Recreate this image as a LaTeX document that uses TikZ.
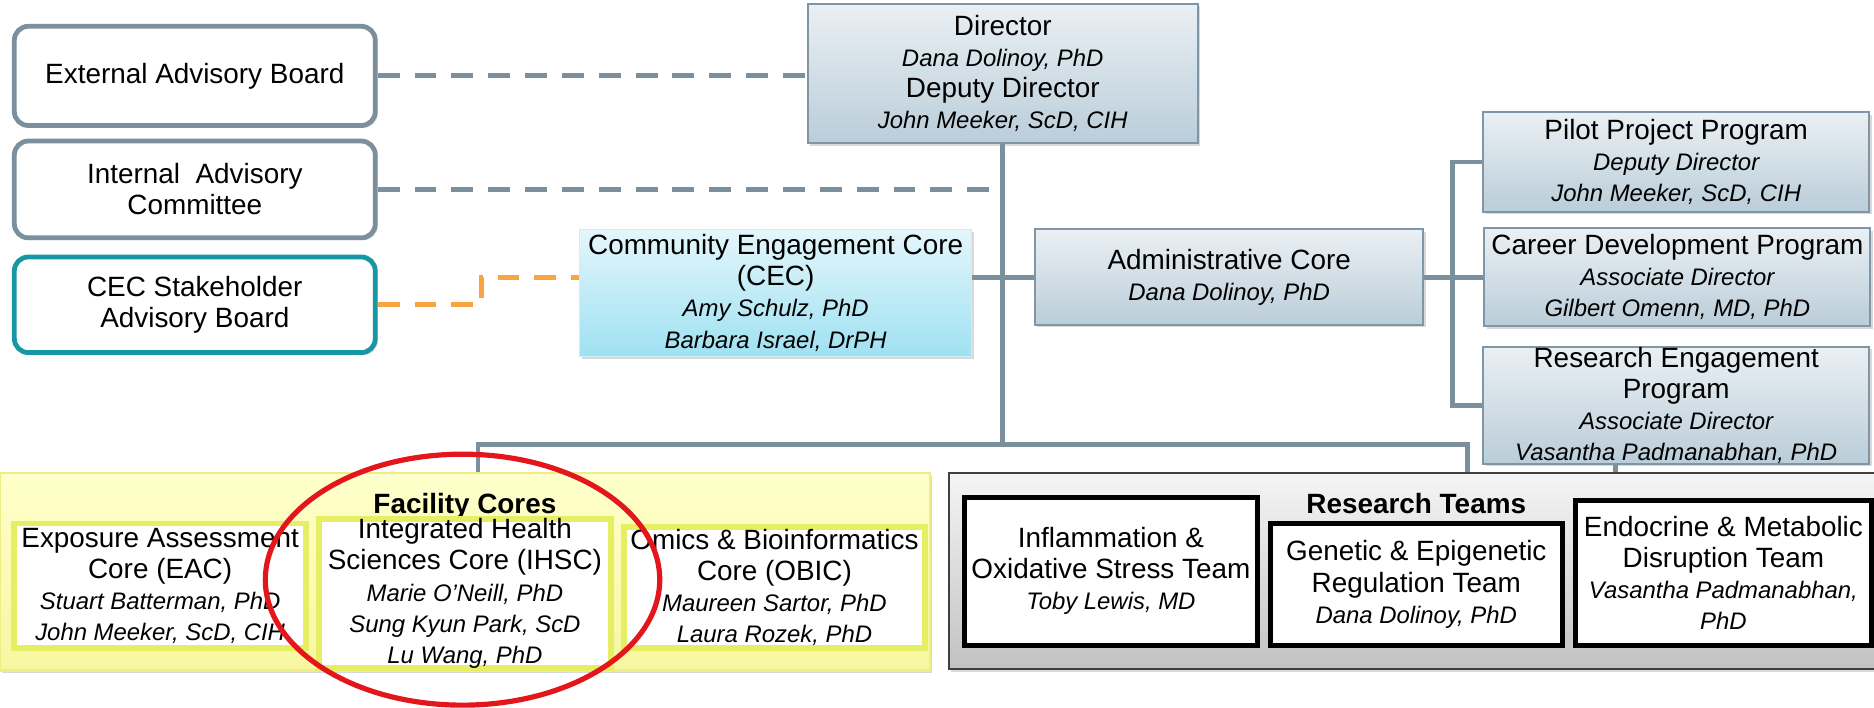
\documentclass[tikz,border=0pt]{standalone}
\usepackage{fontspec}
\setmainfont{Liberation Sans}
\usetikzlibrary{shadows,shapes.geometric}
\definecolor{lgrey}{HTML}{7B8F9C}
\definecolor{tealb}{HTML}{1598A4}
\definecolor{orangel}{HTML}{F7A541}
\definecolor{dirtop}{HTML}{EAF0F4}
\definecolor{dirbot}{HTML}{BACDD9}
\definecolor{dirborder}{HTML}{7E96A5}
\definecolor{cectop}{HTML}{E4F6FB}
\definecolor{cecbot}{HTML}{9FE1F2}
\definecolor{factop}{HTML}{FFFFCC}
\definecolor{facbot}{HTML}{F7F7A0}
\definecolor{facborder}{HTML}{EDEF86}
\definecolor{subborder}{HTML}{E6EF63}
\definecolor{rttop}{HTML}{F5F5F5}
\definecolor{rtbot}{HTML}{C2C2C2}
\definecolor{redc}{HTML}{E3161C}
\newcommand\nmi[1]{{\fontsize{12}{15.6}\selectfont\itshape #1}}
\begin{document}
\begin{tikzpicture}[x=0.6pt,y=-0.6pt,
  font=\fontsize{14}{15.6}\selectfont,
  shad/.style={drop shadow={shadow xshift=1.2pt,shadow yshift=-1.2pt,opacity=0.3}},
  advb/.style={draw=lgrey,line width=2.4pt,rounded corners=7pt,fill=white,align=center,inner sep=0pt,shad},
  blueb/.style={draw=dirborder,line width=1pt,top color=dirtop,bottom color=dirbot,align=center,inner sep=0pt,shad},
  cecb/.style={draw=cectop!60!cecbot,line width=0.6pt,top color=cectop,bottom color=cecbot,align=center,inner sep=0pt,shad},
  contf/.style={draw=facborder,line width=1.2pt,top color=factop,bottom color=facbot,inner sep=0pt,shad},
  contr/.style={draw=black!75,line width=1.2pt,top color=rttop,bottom color=rtbot,inner sep=0pt,shad},
  subb/.style={draw=subborder,line width=3pt,fill=white,align=center,inner sep=0pt},
  teamb/.style={draw=black,line width=2.6pt,fill=white,align=center,inner sep=0pt,shad},
  conn/.style={draw=lgrey,line width=2.4pt},
  dline/.style={draw=lgrey,line width=2.6pt,dash pattern=on 11pt off 7.5pt},
  oline/.style={draw=orangel,line width=2.4pt,dash pattern=on 11pt off 7.5pt},
  titl/.style={font=\fontsize{14}{15.6}\selectfont\bfseries}]
\useasboundingbox (0,0) rectangle (1568,592);

% advisory boards
\node[advb,minimum width=181.2pt,minimum height=49.8pt] (eab) at (163,63.5) {External Advisory Board};
\node[advb,minimum width=181.2pt,minimum height=48.6pt] (iac) at (163,158.5) {Internal\ \ Advisory\\Committee};
\node[advb,draw=tealb,minimum width=181.2pt,minimum height=48pt] (sab) at (163,255) {CEC Stakeholder\\Advisory Board};

% leadership
\node[blueb,minimum width=195.6pt,minimum height=70.2pt] (dir) at (839,61.5) {Director\\\nmi{Dana Dolinoy, PhD}\\Deputy Director\\\nmi{John Meeker, ScD, CIH}};
\node[cecb,minimum width=196.8pt,minimum height=63.6pt] (cec) at (649,245) {Community Engagement Core\\(CEC)\\\nmi{Amy Schulz, PhD}\\\nmi{Barbara Israel, DrPH}};
\node[blueb,minimum width=195pt,minimum height=48pt] (adm) at (1028.5,232) {Administrative Core\\\nmi{Dana Dolinoy, PhD}};
\node[blueb,minimum width=193.8pt,minimum height=49.8pt] (pil) at (1402.5,135.5) {Pilot Project Program\\\nmi{Deputy Director}\\\nmi{John Meeker, ScD, CIH}};
\node[blueb,minimum width=193.8pt,minimum height=49.2pt] (car) at (1403.5,232) {Career Development Program\\\nmi{Associate Director}\\\nmi{Gilbert Omenn, MD, PhD}};
\node[blueb,minimum width=193.8pt,minimum height=58.8pt] (ren) at (1402.5,339) {Research Engagement\\Program\\\nmi{Associate Director}\\\nmi{Vasantha Padmanabhan, PhD}};

% facility cores
\node[contf,minimum width=466.8pt,minimum height=99pt] (fac) at (389,478.5) {};
\node[titl] (fact) at (389,424) {Facility Cores};
\node[subb,minimum width=146.4pt,minimum height=62.4pt] (eac) at (134,490) {Exposure Assessment\\Core (EAC)\\\nmi{Stuart Batterman, PhD}\\\nmi{John Meeker, ScD, CIH}};
\node[subb,minimum width=146.4pt,minimum height=66.6pt] (ihsc) at (389,496.5) {Integrated Health\\Sciences Core (IHSC)\\\nmi{Marie O’Neill, PhD}\\\nmi{Sung Kyun Park, ScD}\\\nmi{Lu Wang, PhD}};
\node[subb,minimum width=151.2pt,minimum height=60.6pt] (obic) at (648,491.5) {Omics \& Bioinformatics\\Core (OBIC)\\\nmi{Maureen Sartor, PhD}\\\nmi{Laura Rozek, PhD}};

% research teams
\node[contr,minimum width=466.8pt,minimum height=98.4pt] (rt) at (1183,478) {};
\node[titl] (rtt) at (1185,421) {Research Teams};
\node[teamb,minimum width=147pt,minimum height=74.4pt] (inf) at (929.5,478) {Inflammation \&\\Oxidative Stress Team\\\nmi{Toby Lewis, MD}};
\node[teamb,minimum width=146.4pt,minimum height=61.2pt] (gen) at (1185,489) {Genetic \& Epigenetic\\Regulation Team\\\nmi{Dana Dolinoy, PhD}};
\node[teamb,minimum width=148.8pt,minimum height=72.6pt] (endo) at (1442,479.5) {Endocrine \& Metabolic\\Disruption Team\\\nmi{Vasantha Padmanabhan,}\\\nmi{PhD}};

% connectors
\coordinate (bus) at (839,372);
\coordinate (busl) at (400,372);
\coordinate (busr) at (1228,372);
\coordinate (brk) at (1215,232);
\coordinate (stub) at (1352,390);
\coordinate (ob) at (403,232);
\draw[conn] (dir.south) -- (bus);
\draw[conn] (busl |- fac.north) -- (busl) -- (busr) -- (busr |- rt.north);
\draw[conn] (adm.west -| cec.east) -- (adm.west);
\draw[conn] (adm.east) -- (car.west);
\draw[conn] (pil.west) -- (pil.west -| brk) -- (ren.west -| brk) -- (ren.west);
\draw[conn] (ren.south -| stub) -- (rt.north -| stub);
\draw[dline] (eab.east) -- (eab.east -| dir.west);
\draw[dline] (iac.east) -- (iac.east -| dir.south);
\draw[oline] (sab.east) -| (ob) -- (ob -| cec.west);

% highlight
\node[draw=redc,line width=2.6pt,ellipse,minimum width=198pt,minimum height=126pt] (hl) at (387,485) {};
\end{tikzpicture}
\end{document}
